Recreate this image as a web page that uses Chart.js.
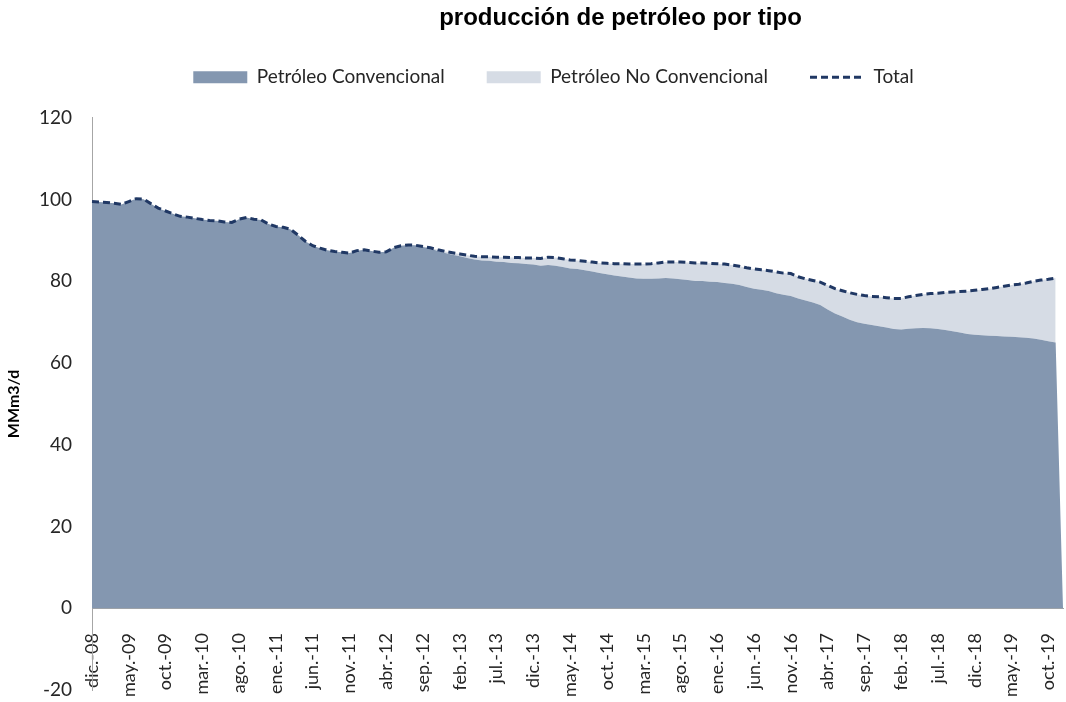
<!DOCTYPE html>
<html>
<head>
<meta charset="utf-8">
<script src="https://cdn.jsdelivr.net/npm/chart.js@4"></script>
<style>
  html, body { margin: 0; padding: 0; background: #fff; }
  #wrap { width: 1066px; height: 702px; }
</style>
</head>
<body>
<div id="wrap"><canvas id="grafico" width="1066" height="702"></canvas></div>
<script>
const meses = ["ene.", "feb.", "mar.", "abr.", "may.", "jun.", "jul.", "ago.", "sep.", "oct.", "nov.", "dic."];

// mensual, desde dic.-08 hasta dic.-19 (MMm3/d)
const convencional = [
  99.5, 99.4, 99.3, 99.1, 98.8, 99.5, 100.2, 100.1, 99.0, 97.9, 97.2, 96.5,
  95.9, 95.7, 95.4, 95.1, 94.9, 94.8, 94.5, 94.4, 95.2, 95.6, 95.2, 95.0,
  94.0, 93.4, 93.2, 92.7, 91.3, 89.8, 88.7, 88.1, 87.6, 87.3, 87.1, 86.9,
  87.5, 87.7, 87.4, 87.1, 87.2, 88.2, 88.7, 88.9, 88.8, 88.4, 88.0, 87.4,
  86.9, 86.5, 86.1, 85.7, 85.3, 85.1, 85.0, 84.8, 84.7, 84.5, 84.4, 84.2,
  84.1, 83.8, 84.0, 83.8, 83.5, 83.1, 83.0, 82.7, 82.4, 82.0, 81.7, 81.4,
  81.2, 80.9, 80.7, 80.6, 80.6, 80.7, 80.8, 80.7, 80.5, 80.3, 80.1, 80.1,
  79.9, 79.8, 79.6, 79.4, 79.1, 78.6, 78.2, 77.9, 77.6, 77.1, 76.7, 76.4,
  75.8, 75.3, 74.8, 74.2, 73.1, 72.1, 71.4, 70.6, 70.0, 69.6, 69.3, 69.0,
  68.7, 68.3, 68.2, 68.4, 68.5, 68.6, 68.5, 68.3, 68.1, 67.8, 67.5, 67.1,
  66.9, 66.8, 66.7, 66.6, 66.5, 66.4, 66.3, 66.2, 66.0, 65.7, 65.3, 65.0,
  0
];
const noConvencional = [
  0, 0, 0, 0, 0, 0, 0, 0, 0, 0, 0, 0,
  0, 0, 0, 0, 0, 0, 0, 0, 0, 0, 0, 0,
  0, 0, 0, 0, 0, 0, 0, 0, 0, 0, 0, 0,
  0, 0, 0, 0, 0, 0, 0, 0, 0, 0.1, 0.2, 0.3,
  0.4, 0.5, 0.6, 0.7, 0.8, 0.9, 1.0, 1.1, 1.2, 1.3, 1.4, 1.5,
  1.6, 1.8, 1.9, 2.0, 2.0, 2.1, 2.1, 2.2, 2.3, 2.5, 2.7, 2.9,
  3.1, 3.3, 3.5, 3.6, 3.7, 3.8, 3.9, 4.0, 4.2, 4.3, 4.4, 4.4,
  4.5, 4.5, 4.6, 4.6, 4.6, 4.7, 4.8, 4.9, 5.0, 5.2, 5.3, 5.5,
  5.3, 5.3, 5.4, 5.6, 5.9, 6.1, 6.3, 6.6, 6.8, 6.9, 7.0, 7.2,
  7.3, 7.5, 7.6, 7.8, 8.0, 8.2, 8.5, 8.8, 9.2, 9.6, 10.0, 10.5,
  10.9, 11.2, 11.5, 11.9, 12.3, 12.7, 13.0, 13.4, 14.0, 14.6, 15.2, 15.8,
  null
];

const etiquetas = convencional.map((_, i) => {
  const m = (11 + i) % 12;
  const a = 8 + Math.floor((11 + i) / 12);
  return meses[m] + "-" + String(a).padStart(2, "0");
});
const total = convencional.map((v, i) =>
  noConvencional[i] == null ? null : Math.round((v + noConvencional[i]) * 10) / 10
);

const fuente = "Lato, 'Open Sans', sans-serif";
const gris = "#A6A6A6";
const guiones = [7, 4];

// corre titulo y leyenda como en el original
const desplazar = {
  id: "desplazar",
  afterLayout(chart) {
    chart.titleBlock.left += 89;
    chart.titleBlock.right += 89;
    chart.legend.left += 22;
    chart.legend.right += 22;
    chart.legend.top -= 21;
    chart.legend.bottom -= 21;
  },
};

new Chart(document.querySelector("#grafico").getContext("2d"), {
  type: "line",
  data: {
    labels: etiquetas,
    datasets: [
      {
        label: "Petróleo Convencional",
        data: convencional,
        backgroundColor: "#8497B0",
        borderWidth: 0,
        fill: "origin",
        pointRadius: 0,
        pointStyle: "rect",
      },
      {
        label: "Petróleo No Convencional",
        data: noConvencional,
        backgroundColor: "#D6DCE5",
        borderWidth: 0,
        fill: "-1",
        pointRadius: 0,
        pointStyle: "rect",
      },
      {
        label: "Total",
        data: total,
        stack: "total",
        borderColor: "#203864",
        backgroundColor: "#203864",
        borderWidth: 3,
        borderDash: guiones,
        fill: false,
        pointRadius: 0,
        pointStyle: "line",
      },
    ],
  },
  options: {
    responsive: false,
    animation: false,
    layout: { padding: { left: 0, right: 3, top: 0, bottom: 12 } },
    plugins: {
      filler: { drawTime: "beforeDatasetsDraw" },
      tooltip: { enabled: false },
      title: {
        display: true,
        text: "producción de petróleo por tipo",
        color: "#000",
        font: { family: "'Liberation Sans', Arial, sans-serif", size: 24, weight: "bold" },
        padding: { top: 4, bottom: 14 },
      },
      legend: {
        position: "top",
        labels: {
          usePointStyle: true,
          pointStyleWidth: 54,
          boxHeight: 12,
          padding: 42,
          color: "#262626",
          font: { family: fuente, size: 19 },
          generateLabels: (chart) =>
            Chart.defaults.plugins.legend.labels.generateLabels(chart).map((item) => {
              if (item.datasetIndex === 2) {
                item.lineDash = guiones;
                item.lineWidth = 3;
              } else {
                item.lineWidth = 0;
              }
              return item;
            }),
        },
      },
    },
    scales: {
      x: {
        type: "category",
        position: { y: 0 },
        grid: { display: false },
        border: { display: true, color: gris, width: 1 },
        ticks: {
          autoSkip: false,
          minRotation: 90,
          maxRotation: 90,
          color: "#262626",
          font: { family: fuente, size: 18 },
          // los espacios finales separan el texto del eje
          callback: (v, i) => (i % 5 === 0 ? etiquetas[i] + "   " : ""),
        },
        afterFit: (scale) => {
          scale.paddingRight = 0;
          scale.paddingLeft = 0;
          scale.height = 0;
        },
      },
      y: {
        stacked: true,
        min: -20,
        max: 120,
        grid: { display: false },
        border: { display: true, color: gris, width: 1 },
        ticks: {
          stepSize: 20,
          padding: 12,
          color: "#262626",
          font: { family: fuente, size: 19 },
        },
        title: {
          display: true,
          text: "MMm3/d",
          color: "#000",
          font: { family: fuente, size: 16, weight: "bold" },
          padding: 4,
        },
        afterFit: (scale) => {
          scale.width = 92;
          scale.paddingTop = 0;
          scale.paddingBottom = 0;
        },
      },
    },
  },
  plugins: [desplazar],
});
</script>
</body>
</html>
